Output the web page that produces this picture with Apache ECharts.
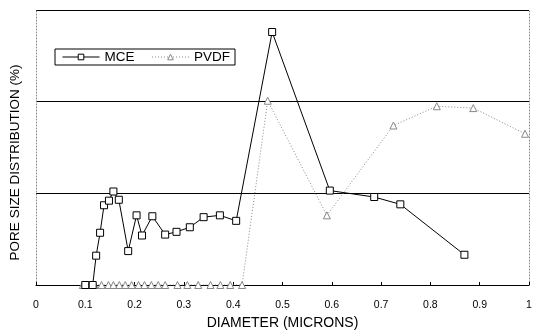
<!DOCTYPE html>
<html>
<head>
<meta charset="utf-8">
<script src="https://cdn.jsdelivr.net/npm/echarts@6/dist/echarts.min.js"></script>
<style>
html,body{margin:0;padding:0;background:#fff;}
#chart{width:536px;height:335px;}
</style>
</head>
<body>
<div id="chart"></div>
<script>
// Data (y in arbitrary units: each grid band = 10)
const mceX = [0.100, 0.115, 0.122, 0.130, 0.138, 0.148, 0.157, 0.168, 0.187, 0.204, 0.215, 0.236, 0.262, 0.285, 0.312, 0.340, 0.373, 0.406, 0.479, 0.596, 0.686, 0.739, 0.869];
const mceY = [0, 0, 3.2, 5.7, 8.7, 9.2, 10.2, 9.3, 3.7, 7.6, 5.4, 7.5, 5.5, 5.8, 6.3, 7.4, 7.6, 7.0, 27.6, 10.3, 9.6, 8.8, 3.3];

const pvdfX = [0.095, 0.110, 0.119, 0.133, 0.147, 0.157, 0.169, 0.181, 0.194, 0.208, 0.220, 0.234, 0.248, 0.262, 0.287, 0.307, 0.329, 0.354, 0.374, 0.394, 0.418, 0.470, 0.590, 0.725, 0.813, 0.887, 0.992];
const pvdfY = [0, 0, 0, 0, 0, 0, 0, 0, 0, 0, 0, 0, 0, 0, 0, 0, 0, 0, 0, 0, 0, 20.1, 7.6, 17.4, 19.5, 19.3, 16.5];

const xTicks = { min: 0, max: 1, interval: 0.1 };
const yTicks = { min: 0, max: 30, interval: 10 };

const seriesNames = ['MCE', 'PVDF'];
const xTitle = 'DIAMETER (MICRONS)';
const yTitle = 'PORE SIZE DISTRIBUTION (%)';

const zip = (xs, ys) => xs.map((x, i) => [x, ys[i]]);
const FONT = '"Liberation Sans", Arial, Helvetica, sans-serif';

const chart = echarts.init(document.getElementById('chart'), null, { renderer: 'canvas' });
chart.setOption({
  animation: false,
  backgroundColor: '#fff',
  grid: { left: 36, right: 7, top: 10, bottom: 43, containLabel: false },
  legend: {
    left: 55, top: 49,
    orient: 'horizontal',
    backgroundColor: '#fff',
    borderColor: '#000',
    borderWidth: 1,
    padding: [1, 5, 1, 7],
    itemWidth: 37,
    itemHeight: 7,
    itemGap: 17,
    lineStyle: { width: 1 },
    itemStyle: { borderWidth: 1 },
    textStyle: { fontFamily: FONT, fontSize: 13.5, color: '#000', lineHeight: 13 },
    data: seriesNames
  },
  graphic: [{
    type: 'text',
    x: 15.5, y: 162.5,
    rotation: Math.PI / 2,
    style: {
      text: yTitle,
      font: '13.5px ' + FONT,
      fill: '#000',
      align: 'center',
      verticalAlign: 'middle'
    }
  }],
  xAxis: {
    type: 'value',
    min: xTicks.min, max: xTicks.max, interval: xTicks.interval,
    name: xTitle,
    nameLocation: 'middle',
    nameGap: 31,
    nameTextStyle: { fontFamily: FONT, fontSize: 14, color: '#000' },
    axisLine: { show: true, lineStyle: { color: '#000', width: 1 } },
    axisTick: { show: true, inside: true, length: 3, lineStyle: { color: '#000' } },
    axisLabel: { fontFamily: FONT, fontSize: 10.5, color: '#000', margin: 15 },
    splitLine: { show: false }
  },
  yAxis: [{
    type: 'value',
    min: yTicks.min, max: yTicks.max, interval: yTicks.interval,
    axisLine: { show: true, lineStyle: { color: '#888', width: 1, type: [1, 2] } },
    axisTick: { show: false },
    axisLabel: { show: false },
    splitLine: { show: true, lineStyle: { color: '#000', width: 1 } }
  }, {
    type: 'value',
    position: 'right',
    min: yTicks.min, max: yTicks.max, interval: yTicks.interval,
    axisLine: { show: true, lineStyle: { color: '#888', width: 1, type: [1, 2] } },
    axisTick: { show: false },
    axisLabel: { show: false },
    splitLine: { show: false }
  }],
  series: [{
    name: seriesNames[0],
    type: 'line',
    data: zip(mceX, mceY),
    symbol: 'rect',
    symbolSize: 7,
    showAllSymbol: true,
    lineStyle: { color: '#000', width: 1 },
    itemStyle: { color: '#fff', borderColor: '#000', borderWidth: 1 },
    z: 3
  }, {
    name: seriesNames[1],
    type: 'line',
    data: zip(pvdfX, pvdfY),
    symbol: 'triangle',
    symbolSize: 7,
    showAllSymbol: true,
    lineStyle: { color: '#888', width: 1, type: [1, 2] },
    itemStyle: { color: '#fff', borderColor: '#888', borderWidth: 1 },
    z: 2
  }]
});
</script>
</body>
</html>
